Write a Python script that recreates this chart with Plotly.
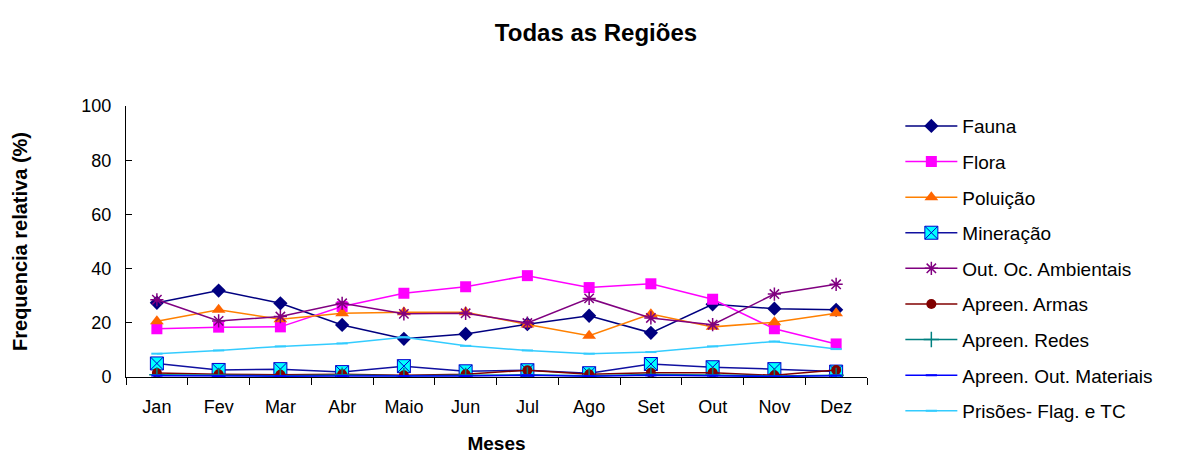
import plotly.graph_objects as go

months = ["Jan", "Fev", "Mar", "Abr", "Maio", "Jun", "Jul", "Ago", "Set", "Out", "Nov", "Dez"]

fauna = [27.4, 31.9, 27.2, 19.2, 14.1, 15.9, 19.5, 22.6, 16.3, 26.8, 25.2, 24.8]
flora = [17.8, 18.4, 18.5, 26.0, 30.9, 33.3, 37.4, 33.0, 34.4, 28.7, 17.8, 12.2]
poluicao = [20.6, 24.8, 21.3, 23.5, 23.9, 23.9, 19.4, 15.2, 23.2, 18.5, 20.2, 23.5]
mineracao = [5.0, 2.6, 2.9, 1.8, 4.0, 2.1, 2.5, 1.4, 4.8, 3.6, 2.9, 2.0]
out_oc = [28.5, 20.7, 22.3, 27.2, 23.3, 23.5, 19.9, 29.0, 21.8, 19.3, 30.6, 34.2]
armas = [1.5, 1.0, 0.8, 1.0, 0.6, 1.0, 2.5, 1.0, 1.6, 1.6, 0.6, 2.6]
redes = [0.8, 0.6, 0.5, 0.7, 0.5, 0.6, 0.8, 0.5, 0.9, 0.7, 0.4, 0.6]
out_mat = [0.5, 0.3, 0.3, 0.4, 0.3, 0.4, 0.6, 0.3, 0.6, 0.5, 0.2, 0.5]
prisoes = [8.6, 9.8, 11.3, 12.4, 14.7, 11.5, 9.8, 8.6, 9.2, 11.3, 13.1, 10.3]

series = [
    ("Fauna", fauna, "#000080", dict(symbol="diamond", size=11, color="#000080")),
    ("Flora", flora, "#FF00FF", dict(symbol="square", size=11, color="#FF00FF")),
    ("Poluição", poluicao, "#FF8000", dict(symbol="triangle-up", size=12, color="#FF6600")),
    ("Mineração", mineracao, "#1010A0", dict(symbol="square-x", size=13, color="#00FFFF",
                                           line=dict(color="#0000CC", width=1))),
    ("Out. Oc. Ambientais", out_oc, "#800080", dict(symbol="asterisk-open", size=11,
                                                  line=dict(color="#800080", width=1.5))),
    ("Apreen. Armas", armas, "#800000", dict(symbol="circle", size=10, color="#800000")),
    ("Apreen. Redes", redes, "#008080", dict(symbol="cross-thin-open", size=11,
                                            line=dict(color="#008080", width=1.5))),
    ("Apreen. Out. Materiais", out_mat, "#0000FF", dict(symbol="line-ew-open", size=8,
                                                       line=dict(color="#0000FF", width=2))),
    ("Prisões- Flag. e TC", prisoes, "#33CCFF", dict(symbol="line-ew-open", size=8,
                                                    line=dict(color="#33CCFF", width=2))),
]

fig = go.Figure()
for i, (name, vals, lc, mk) in enumerate(series):
    fig.add_trace(go.Scatter(
        x=months, y=vals, name=name, mode="lines+markers",
        line=dict(color=lc, width=1.5), marker=mk, legendgroup=f"g{i}",
    ))

font_family = "Liberation Sans, Arial, sans-serif"

fig.update_layout(
    width=1195, height=467,
    paper_bgcolor="white", plot_bgcolor="white",
    margin=dict(l=126, r=328, t=106, b=90),
    font=dict(family=font_family, size=18, color="black"),
    title=dict(text="<b>Todas as Regiões</b>", x=596 / 1195, xref="container", xanchor="center",
               y=1 - 33 / 467, yref="container", yanchor="middle", font=dict(size=24)),
    showlegend=True,
    legend=dict(x=1.045, xanchor="left", y=0.996, yanchor="top",
                font=dict(size=19), tracegroupgap=7.9, bgcolor="rgba(0,0,0,0)",
                itemwidth=52, maxheight=460),
)

fig.update_xaxes(
    type="category", range=[-0.5, 11.5], showline=True, linecolor="black", linewidth=1,
    ticks="outside", tickson="boundaries", ticklen=7, tickcolor="black",
    showgrid=False, zeroline=False, ticklabelstandoff=13,
    title=dict(text="<b>Meses</b>", font=dict(size=19), standoff=21),
    tickfont=dict(size=18),
)
fig.update_yaxes(
    range=[0, 100], dtick=20, showline=True, linecolor="black", linewidth=1,
    ticks="inside", ticklen=6, tickcolor="black", showgrid=False, zeroline=False,
    ticksuffix="\u00a0\u00a0",
    title=dict(text="<b>Frequencia relativa (%)</b>", font=dict(size=20), standoff=48),
    tickfont=dict(size=18),
)

fig.write_html("out.html")
